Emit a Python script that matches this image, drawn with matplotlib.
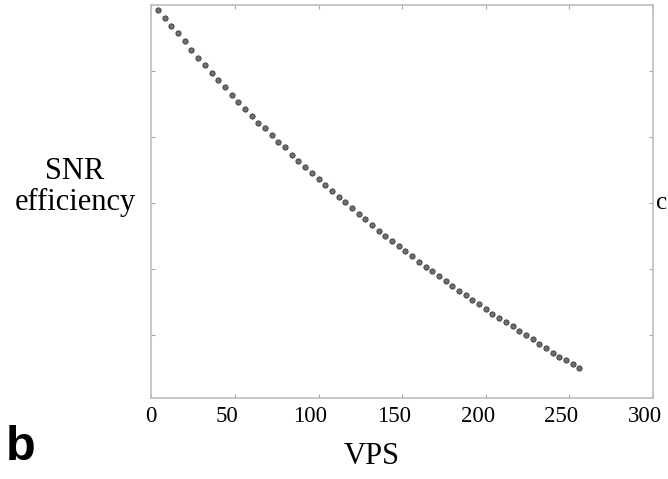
"""SNR efficiency versus VPS (panel b), redrawn from the reference figure."""

import matplotlib

matplotlib.use("Agg")
import matplotlib.pyplot as plt  # noqa: E402
import matplotlib.transforms as mtransforms  # noqa: E402
import numpy as np  # noqa: E402

# --- data (y axis carries no labels) ---
VPS = np.arange(4, 257, 4)
SNR_EFF = [
    5.92, 5.81, 5.68, 5.57, 5.45, 5.32, 5.20, 5.09,
    4.97, 4.86, 4.75, 4.64, 4.53, 4.42, 4.32, 4.21,
    4.13, 4.03, 3.92, 3.84, 3.73, 3.64, 3.55, 3.45,
    3.36, 3.27, 3.18, 3.09, 3.01, 2.92, 2.83, 2.75,
    2.66, 2.58, 2.50, 2.42, 2.34, 2.27, 2.19, 2.11,
    2.03, 1.96, 1.89, 1.82, 1.74, 1.67, 1.60, 1.53,
    1.46, 1.39, 1.32, 1.26, 1.19, 1.13, 1.06, 1.00,
    0.93, 0.86, 0.80, 0.73, 0.67, 0.61, 0.55, 0.50,
]
X_TICKS = [0, 50, 100, 150, 200, 250, 300]
Y_TICKS = [1, 2, 3, 4, 5]

SERIF = ["Liberation Serif", "DejaVu Serif"]
GRID_GREY = "#bdbdbd"

fig = plt.figure(figsize=(6.68, 4.79), dpi=100)
ax = fig.add_axes([0.2265, 0.169, 0.751, 0.8205])

ax.plot(
    VPS, SNR_EFF, linestyle="none", marker="o", markersize=3.8,
    markerfacecolor="#6e6e6e", markeredgecolor="#3c3c3c", markeredgewidth=0.6,
)

ax.set_xlim(0, 300)
ax.set_ylim(0.04, 6.0)
ax.set_xticks(X_TICKS)
ax.set_yticks(Y_TICKS)
ax.set_yticklabels([])
ax.tick_params(
    which="both", direction="in", length=3, width=0.8, color="#a8a8a8",
    top=True, right=True, pad=5.5, labelsize=16.5,
)
for lab in ax.get_xticklabels():
    lab.set_fontfamily(SERIF)
for spine in ax.spines.values():
    spine.set_color(GRID_GREY)
    spine.set_linewidth(1.2)

# tick labels in the source sit a few pixels left of their ticks (except 0)
shift = mtransforms.ScaledTranslation(-8 / 100, 0, fig.dpi_scale_trans)
for tick in ax.xaxis.get_major_ticks()[1:]:
    tick.label1.set_transform(tick.label1.get_transform() + shift)

fig.text(372 / 668, 1 - 457 / 479, "VPS", ha="center", va="center",
         fontsize=22, family=SERIF)
fig.text(75 / 668, 1 - 187 / 479, "SNR\nefficiency", ha="center",
         va="center", fontsize=22, family=SERIF, linespacing=1.1)
fig.text(6 / 668, 1 - 448 / 479, "b", ha="left", va="center",
         fontsize=35, fontweight="bold", family=["Liberation Sans", "DejaVu Sans"])
# edge of the neighbouring panel's label (cropped in the source)
fig.text(667 / 668, 1 - 203 / 479, "c", ha="right", va="center",
         fontsize=18, family=SERIF)

fig.savefig("out.png", dpi=100)
